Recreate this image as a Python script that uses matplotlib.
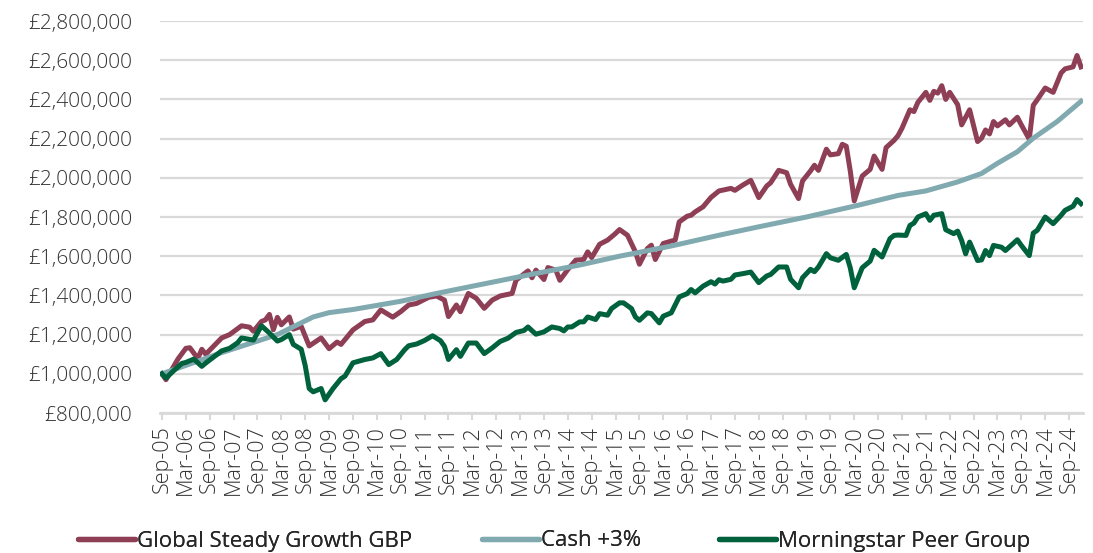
import matplotlib
matplotlib.use("Agg")
import matplotlib.pyplot as plt
from matplotlib.ticker import FuncFormatter, MultipleLocator
from matplotlib.lines import Line2D

# months counted from Sep-05 (0) to Dec-24 (231), values in GBP thousands
gsg_month = [0, 1, 4, 6, 7, 9, 10, 11, 15, 17, 20, 22, 23, 25, 26, 27, 28, 29, 30, 32,
             33, 35, 37, 40, 42, 44, 45, 48, 51, 53, 55, 58, 60, 62, 64, 67, 69, 71, 72, 74,
             75, 77, 79, 81, 83, 85, 88, 89, 92, 93, 94, 96, 97, 99, 100, 102, 104, 106, 107, 108,
             110, 112, 114, 115, 117, 118, 119, 120, 122, 123, 124, 126, 128, 129, 130, 132, 133, 134, 136, 138,
             140, 143, 144, 146, 148, 150, 152, 153, 155, 157, 158, 160, 161, 163, 164, 165, 167, 168, 170, 171,
             172, 173, 174, 176, 178, 179, 181, 182, 184, 185, 186, 188, 189, 190, 192, 193, 194, 195, 196, 197,
             198, 200, 201, 203, 205, 206, 207, 208, 209, 210, 212, 213, 215, 216, 218, 219, 220, 222, 224, 226,
             227, 229, 230, 231]
gsg_value = [1000, 970, 1075, 1130, 1133, 1078, 1125, 1100, 1183, 1200, 1245, 1238, 1217, 1267, 1275, 1303, 1225, 1288, 1250, 1290,
             1228, 1242, 1142, 1183, 1128, 1162, 1150, 1224, 1267, 1275, 1326, 1289, 1317, 1351, 1359, 1390, 1397, 1376, 1292, 1351,
             1317, 1410, 1385, 1334, 1376, 1397, 1410, 1478, 1525, 1490, 1529, 1481, 1542, 1529, 1477, 1532, 1580, 1583, 1622, 1593,
             1661, 1682, 1716, 1736, 1707, 1665, 1622, 1559, 1639, 1656, 1583, 1665, 1677, 1682, 1775, 1804, 1809, 1826, 1852, 1900,
             1933, 1946, 1936, 1963, 1987, 1899, 1958, 1975, 2038, 2026, 1967, 1894, 1984, 2035, 2064, 2038, 2146, 2117, 2123, 2171,
             2161, 2035, 1882, 2009, 2043, 2111, 2043, 2154, 2191, 2215, 2253, 2347, 2338, 2385, 2436, 2395, 2441, 2432, 2470, 2400,
             2436, 2373, 2270, 2347, 2185, 2202, 2244, 2224, 2287, 2265, 2296, 2270, 2309, 2270, 2197, 2370, 2398, 2458, 2436, 2535,
             2556, 2566, 2624, 2566]

cash_month = [0, 7, 15, 24, 29, 34, 38, 42, 48, 60, 69, 80, 93, 105, 115, 128, 140, 150, 162, 175,
              185, 192, 200, 206, 210, 215, 219, 225, 231]
cash_value = [1000, 1050, 1108, 1167, 1200, 1250, 1290, 1312, 1328, 1370, 1410, 1455, 1508, 1555, 1600, 1652, 1707, 1750, 1800, 1860,
              1910, 1933, 1979, 2022, 2074, 2133, 2202, 2287, 2390]

peer_month = [0, 1, 3, 5, 6, 8, 10, 11, 15, 17, 19, 20, 23, 25, 27, 29, 30, 32, 33, 35,
              36, 37, 38, 40, 41, 43, 45, 46, 48, 51, 53, 55, 57, 59, 61, 62, 64, 66, 68, 70,
              71, 72, 74, 75, 77, 79, 81, 83, 85, 87, 89, 91, 92, 93, 94, 96, 98, 100, 101, 102,
              103, 105, 106, 107, 109, 110, 112, 113, 115, 116, 118, 119, 120, 122, 123, 125, 126, 128, 130, 132,
              133, 134, 136, 138, 139, 140, 141, 143, 144, 146, 148, 150, 152, 153, 155, 157, 158, 160, 161, 163,
              164, 165, 167, 168, 170, 172, 173, 174, 176, 178, 179, 181, 183, 184, 185, 187, 188, 189, 190, 192,
              193, 194, 196, 197, 199, 200, 201, 202, 203, 205, 206, 207, 208, 209, 211, 212, 215, 216, 218, 219,
              220, 222, 224, 226, 227, 229, 230, 231]
peer_value = [1000, 978, 1017, 1053, 1058, 1075, 1038, 1055, 1117, 1130, 1158, 1183, 1172, 1245, 1208, 1167, 1175, 1200, 1150, 1125,
              1042, 925, 908, 925, 867, 925, 975, 988, 1056, 1073, 1081, 1103, 1047, 1073, 1123, 1143, 1152, 1170, 1194, 1169,
              1140, 1073, 1123, 1089, 1157, 1157, 1103, 1132, 1165, 1182, 1211, 1221, 1239, 1220, 1202, 1214, 1239, 1231, 1219, 1239,
              1239, 1265, 1265, 1290, 1277, 1307, 1299, 1333, 1362, 1362, 1333, 1290, 1273, 1311, 1307, 1260, 1294, 1311, 1392, 1409,
              1430, 1413, 1447, 1470, 1458, 1480, 1473, 1482, 1504, 1511, 1519, 1465, 1499, 1507, 1545, 1545, 1482, 1439, 1490, 1533,
              1521, 1545, 1613, 1592, 1579, 1609, 1541, 1439, 1541, 1575, 1630, 1596, 1690, 1706, 1708, 1706, 1757, 1769, 1800, 1817,
              1783, 1809, 1817, 1735, 1715, 1728, 1680, 1612, 1672, 1578, 1581, 1629, 1603, 1655, 1646, 1629, 1684, 1655, 1603, 1718,
              1732, 1800, 1766, 1809, 1834, 1855, 1889, 1868]

tick_labels = ["Sep-05", "Mar-06", "Sep-06", "Mar-07", "Sep-07", "Mar-08", "Sep-08", "Mar-09", "Sep-09", "Mar-10",
               "Sep-10", "Mar-11", "Sep-11", "Mar-12", "Sep-12", "Mar-13", "Sep-13", "Mar-14", "Sep-14", "Mar-15",
               "Sep-15", "Mar-16", "Sep-16", "Mar-17", "Sep-17", "Mar-18", "Sep-18", "Mar-19", "Sep-19", "Mar-20",
               "Sep-20", "Mar-21", "Sep-21", "Mar-22", "Sep-22", "Mar-23", "Sep-23", "Mar-24", "Sep-24"]
series_names = ["Global Steady Growth GBP", "Cash +3%", "Morningstar Peer Group"]

red = "#8E3F55"
blue = "#80AAB0"
green = "#00613D"
grid_c = "#D9D9D9"

plt.rcParams["font.family"] = ["Open Sans", "DejaVu Sans"]

fig = plt.figure(figsize=(10.93, 5.53), dpi=100)
ax = fig.add_axes([160 / 1093, 1 - 413 / 553, (1083 - 160) / 1093, (413 - 21) / 553])

ax.plot(gsg_month, [v * 1000 for v in gsg_value], color=red, lw=3.6, solid_joinstyle="round", zorder=3)
ax.plot(cash_month, [v * 1000 for v in cash_value], color=blue, lw=3.6, solid_joinstyle="round", zorder=4)
ax.plot(peer_month, [v * 1000 for v in peer_value], color=green, lw=3.6, solid_joinstyle="round", zorder=5)

ax.set_xlim(-0.5, 231.5)
ax.set_ylim(800000, 2800000)
ax.yaxis.set_major_locator(MultipleLocator(200000))
ax.yaxis.set_major_formatter(FuncFormatter(lambda v, p: "£{:,.0f}".format(v)))
ax.grid(axis="y", color=grid_c, lw=1.6, zorder=0)
ax.set_axisbelow(True)

ax.set_xticks(range(0, 229, 6))
ax.set_xticklabels(tick_labels, rotation=90)

for s in ["top", "right", "left"]:
    ax.spines[s].set_visible(False)
ax.spines["bottom"].set_color(grid_c)
ax.spines["bottom"].set_linewidth(2)

ax.tick_params(axis="y", length=0, pad=20, labelsize=15, labelcolor="#333333")
ax.tick_params(axis="x", length=5, width=1.5, color=grid_c, pad=4, labelsize=15.5, labelcolor="#333333")
for t in ax.get_xticklabels() + ax.get_yticklabels():
    t.set_fontweight("light")

# one legend box per entry so each sits where the reference has it
legend_x = [78, 482, 719]
for name, c, lx in zip(series_names, (red, blue, green), legend_x):
    h = Line2D([], [], color=c, lw=3.8, solid_capstyle="round")
    lg = fig.legend([h], [name], loc="center left", bbox_to_anchor=(lx / 1093, 1 - 541 / 553),
                    frameon=False, fontsize=16, handlelength=2.55, handletextpad=0.12,
                    borderaxespad=0, borderpad=0, labelcolor="#262626")
    fig.add_artist(lg)

fig.savefig("out.png", dpi=100)
